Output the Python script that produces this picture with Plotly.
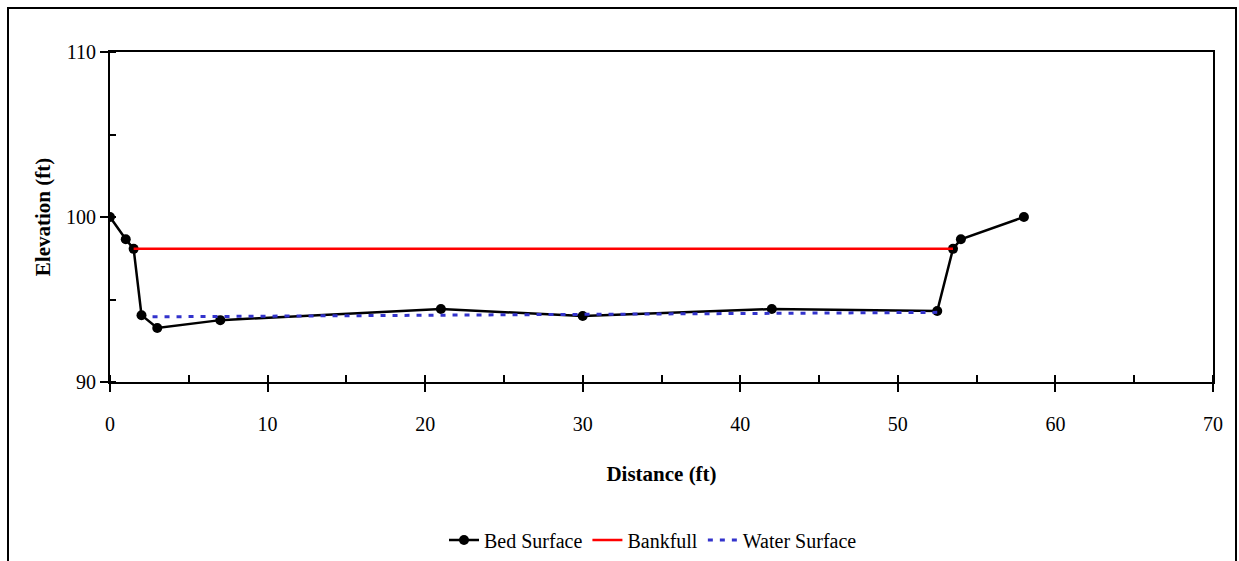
import plotly.graph_objects as go

# Data
bed_x = [0, 1.0, 1.5, 2.0, 3.0, 7.0, 21.0, 30.0, 42.0, 52.5, 53.5, 54.0, 58.0]
bed_y = [100.0, 98.65, 98.07, 94.05, 93.27, 93.75, 94.42, 94.0, 94.42, 94.3, 98.07, 98.65, 100.0]

bank_x = [1.5, 53.5]
bank_y = [98.07, 98.07]

water_x = [2.7, 7.0, 21.0, 30.0, 42.0, 52.5]
water_y = [93.95, 93.98, 94.04, 94.1, 94.16, 94.22]

x_range = [0, 70]
y_range = [90, 110]

FONT = "Liberation Serif"

fig = go.Figure()
fig.add_trace(go.Scatter(x=bed_x, y=bed_y, mode="lines+markers", name="Bed Surface",
                         line=dict(color="black", width=2.5),
                         marker=dict(color="black", size=10)))
fig.add_trace(go.Scatter(x=bank_x, y=bank_y, mode="lines", name="Bankfull",
                         line=dict(color="#FF0000", width=2.5)))
fig.add_trace(go.Scatter(x=water_x, y=water_y, mode="lines", name="Water Surface",
                         line=dict(color="#3333CC", width=3, dash="5px,7px")))

# The chart extends below the visible window (its frame bottom is not shown)
W, H = 1239, 620
L, R, T, B = 110, 26, 52, 620 - 382
pw = W - L - R
ph = H - T - B

def px2paper_x(p):
    return (p - L) / pw

def px2paper_y(p):
    return (H - B - p) / ph

fig.update_layout(
    width=W, height=H,
    margin=dict(l=L, r=R, t=T, b=B),
    paper_bgcolor="white", plot_bgcolor="white",
    font=dict(family=FONT, size=20, color="black"),
    showlegend=True,
    legend=dict(orientation="h", x=px2paper_x(653), xanchor="center",
                y=px2paper_y(540), yanchor="middle",
                font=dict(family=FONT, size=20), bgcolor="rgba(0,0,0,0)",
                itemwidth=30, tracegroupgap=0),
    xaxis=dict(range=x_range, dtick=10, tick0=0, showgrid=False, zeroline=False,
               showline=True, linecolor="black", linewidth=2, mirror=True,
               ticks="outside", ticklen=8, tickwidth=2, tickcolor="black",
               ticklabelstandoff=15,
               tickfont=dict(family=FONT, size=20),
               minor=dict(dtick=5, ticks="inside", ticklen=7, tickwidth=1.5, tickcolor="black"),
               title=dict(text="<b>Distance (ft)</b>", font=dict(family=FONT, size=21), standoff=32)),
    yaxis=dict(range=y_range, dtick=10, tick0=90, showgrid=False, zeroline=False,
               showline=True, linecolor="black", linewidth=2, mirror=True,
               ticks="outside", ticklen=8, tickwidth=2, tickcolor="black",
               tickfont=dict(family=FONT, size=20),
               minor=dict(dtick=5, ticks="inside", ticklen=6, tickwidth=1.5, tickcolor="black"),
               title=dict(text="<b>Elevation (ft)</b>", font=dict(family=FONT, size=21), standoff=10)),
    xaxis2=dict(overlaying="x", range=x_range, dtick=10, tick0=0, side="bottom",
                showgrid=False, zeroline=False, showline=False, showticklabels=False,
                ticks="inside", ticklen=8, tickwidth=2, tickcolor="black"),
    yaxis2=dict(overlaying="y", range=y_range, dtick=10, tick0=90, side="left",
                showgrid=False, zeroline=False, showline=False, showticklabels=False,
                ticks="inside", ticklen=8, tickwidth=2, tickcolor="black"),
    shapes=[dict(type="rect", xref="paper", yref="paper",
                 x0=px2paper_x(8), x1=px2paper_x(1236),
                 y0=px2paper_y(605), y1=px2paper_y(8),
                 line=dict(color="black", width=2), fillcolor="rgba(0,0,0,0)", layer="above")],
)

fig.write_html("out.html", config={"displayModeBar": False},
               post_script="document.body.style.margin='0';document.body.style.overflow='hidden';")
